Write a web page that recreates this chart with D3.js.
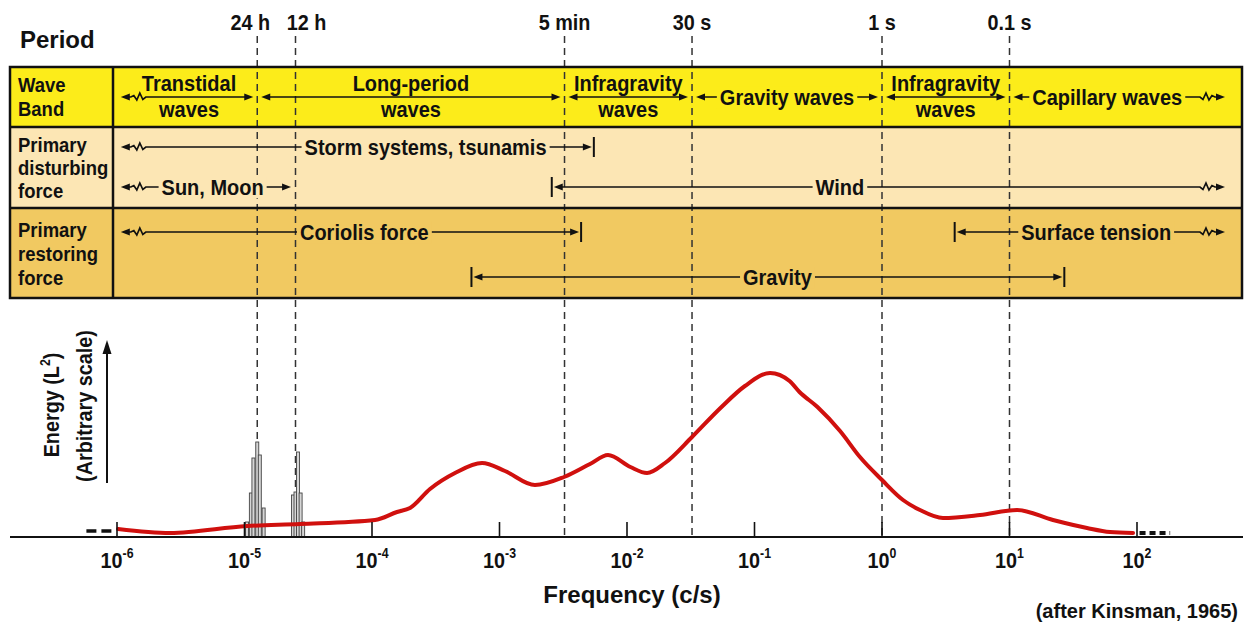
<!DOCTYPE html>
<html><head><meta charset="utf-8">
<script src="https://cdn.jsdelivr.net/npm/d3@7"></script>
<style>
body{margin:0;background:#fff}
svg{display:block}
text{font-family:"Liberation Sans",Arial,Helvetica,sans-serif;font-weight:bold;fill:#111}
</style>
</head><body>
<svg id="c" width="1245" height="631"></svg>
<script>
// ---------------- DATA ----------------
const tickExponents = [-6, -5, -4, -3, -2, -1, 0, 1, 2];
const periodLabels = ["24 h", "12 h", "5 min", "30 s", "1 s", "0.1 s"];
const periodLogFreq = [-4.9, -4.6, -2.49, -1.49, 0, 1];

const rowTitles = [["Wave", "Band"], ["Primary", "disturbing", "force"], ["Primary", "restoring", "force"]];

const waveBandNames = [["Transtidal", "waves"], ["Long-period", "waves"], ["Infragravity", "waves"], ["Gravity waves"], ["Infragravity", "waves"], ["Capillary waves"]];
const waveBandEdges = [-5.97, -4.9, -2.49, -1.49, 0, 1, 2.69]; // log10 frequency

const forceNames = ["Storm systems, tsunamis", "Sun, Moon", "Wind", "Coriolis force", "Surface tension", "Gravity"];
const forceRow = [1, 1, 1, 2, 2, 2];
const forceLane = [0, 1, 1, 0, 0, 1];
const forceFrom = [-5.97, -5.97, -2.59, -5.97, 0.57, -3.22];
const forceTo = [-2.26, -4.635, 2.69, -2.36, 2.69, 1.43];
const forceStartCap = ["wiggle", "wiggle", "bar", "wiggle", "bar", "bar"];
const forceEndCap = ["bar", "arrow", "wiggle", "bar", "wiggle", "bar"];
const forceLabelAt = [-3.58, -5.25, -0.33, -4.06, 1.68, -0.82];

const spectrumLogFreq = [-5.992, -5.584, -4.98, -4.565, -3.976, -3.804, -3.702, -3.545, -3.349, -3.137, -2.957, -2.722, -2.494, -2.29, -2.149, -1.973, -1.843, -1.702, -1.49, -1.267, -1.075, -0.878, -0.725, -0.647, -0.506, -0.329, -0.173, 0, 0.165, 0.298, 0.478, 0.769, 1.059, 1.341, 1.608, 1.788, 1.969];
const spectrumEnergy = [4, 2, 5.5, 6.5, 8.5, 12.5, 14.5, 24, 32, 37, 33, 26, 30, 36.5, 41, 35, 32, 37, 50, 64.5, 75.5, 82, 78, 72.5, 65, 53, 40, 28.5, 18.5, 13.5, 9.5, 11, 13.5, 8.5, 4.5, 2.5, 2];

const tideLogFreq = [-4.98, -4.95, -4.93, -4.90, -4.88, -4.85, -4.62, -4.60, -4.58, -4.56, -4.54];
const tideEnergy = [7.5, 22, 39.5, 47.5, 41, 14.5, 21, 22.5, 42.5, 22, 7.5];

const tailLeftLog = [-6.24, -6.04], tailLeftEnergy = 3;
const tailRightLog = [2.02, 2.26], tailRightEnergy = 2;

// ---------------- DRAW ----------------
const svg = d3.select("#c");
const x = d3.scaleLog().domain([1e-6, 1e2]).range([117, 1137]);
const xl = v => x(Math.pow(10, v));
const y = d3.scaleLinear().domain([0, 100]).range([537, 337]);
const SX = 0.88; // condensed look

function label(px, py, str, size, anchor, bg) {
  const g = svg.append("g").attr("transform", `translate(${px},${py}) scale(${SX},1)`);
  const t = g.append("text").attr("text-anchor", anchor || "start").attr("font-size", size).text(str);
  if (bg) {
    const b = t.node().getBBox();
    g.insert("rect", "text").attr("x", b.x - 3 / SX).attr("y", b.y + 2).attr("width", b.width + 6 / SX)
      .attr("height", b.height - 4).attr("fill", bg);
  }
  return t;
}

const tableLeft = 10, tableRight = 1242, labelCol = 113;
const rowTops = [67, 127, 208], rowBottoms = [127, 208, 298];
const rowColors = ["#fcec1a", "#fce6b4", "#f1c961"];

rowTops.forEach((t, i) => {
  svg.append("rect").attr("x", tableLeft).attr("y", t).attr("width", tableRight - tableLeft)
    .attr("height", rowBottoms[i] - t).attr("fill", rowColors[i]);
});

// Period dashed lines
const labelDx = {"24 h": -7, "12 h": 11};
periodLogFreq.forEach((v, i) => {
  svg.append("line").attr("x1", xl(v)).attr("x2", xl(v)).attr("y1", 36).attr("y2", 537)
    .attr("stroke", "#333").attr("stroke-width", 1.5).attr("stroke-dasharray", "7,5");
  label(xl(v) + (labelDx[periodLabels[i]] || 0), 30, periodLabels[i], 22.5, "middle");
});
svg.append("text").attr("x", 20).attr("y", 48).attr("font-size", 24).text("Period");

// Table borders
svg.append("rect").attr("x", tableLeft).attr("y", rowTops[0]).attr("width", tableRight - tableLeft)
  .attr("height", rowBottoms[2] - rowTops[0]).attr("fill", "none").attr("stroke", "#111").attr("stroke-width", 2.5);
[127, 208].forEach(yy => svg.append("line").attr("x1", tableLeft).attr("x2", tableRight).attr("y1", yy).attr("y2", yy)
  .attr("stroke", "#111").attr("stroke-width", 2.5));
svg.append("line").attr("x1", labelCol).attr("x2", labelCol).attr("y1", rowTops[0]).attr("y2", rowBottoms[2])
  .attr("stroke", "#111").attr("stroke-width", 2.5);

// Row titles
const titleBase = [[92, 116], [152, 175, 198], [237, 261, 285]];
rowTitles.forEach((lines, r) => lines.forEach((s, k) => label(18, titleBase[r][k], s, 21, "start")));

// Arrow helper
function drawArrow(x1, x2, yy, capL, capR) {
  const head = 9;
  const tipL = capL === "bar" ? x1 + 2 : x1;
  const tipR = capR === "bar" ? x2 - 2 : x2;
  const pts = [[tipL + head - 2, yy]];
  if (capL === "wiggle") {
    const b = tipL + head;
    pts.push([b + 1, yy], [b + 4, yy - 1.5], [b + 7, yy + 3], [b + 10, yy - 4], [b + 13, yy + 2.5], [b + 16, yy]);
  }
  if (capR === "wiggle") {
    const b = tipR - head;
    pts.push([b - 16, yy], [b - 13, yy + 2.5], [b - 10, yy - 4], [b - 7, yy + 3], [b - 4, yy - 1.5], [b - 1, yy]);
  }
  pts.push([tipR - head + 2, yy]);
  svg.append("path").attr("d", d3.line()(pts)).attr("fill", "none").attr("stroke", "#111").attr("stroke-width", 1.7);
  svg.append("path").attr("d", `M${tipL},${yy}L${tipL + head},${yy - 3.5}L${tipL + head},${yy + 3.5}Z`).attr("fill", "#111");
  svg.append("path").attr("d", `M${tipR},${yy}L${tipR - head},${yy - 3.5}L${tipR - head},${yy + 3.5}Z`).attr("fill", "#111");
  if (capL === "bar") svg.append("line").attr("x1", x1).attr("x2", x1).attr("y1", yy - 10).attr("y2", yy + 10).attr("stroke", "#111").attr("stroke-width", 2);
  if (capR === "bar") svg.append("line").attr("x1", x2).attr("x2", x2).attr("y1", yy - 10).attr("y2", yy + 10).attr("stroke", "#111").attr("stroke-width", 2);
}

// Wave band row
const bandY = 97;
waveBandNames.forEach((lines, i) => {
  const a = waveBandEdges[i], b = waveBandEdges[i + 1];
  const first = i === 0, last = i === waveBandNames.length - 1;
  const x1 = xl(a) + (first ? 0 : 4), x2 = xl(b) - (last ? 0 : 4);
  drawArrow(x1, x2, bandY, first ? "wiggle" : "arrow", last ? "wiggle" : "arrow");
  const cx = (xl(a) + xl(b)) / 2 + (last ? -10 : 0);
  if (lines.length === 2) {
    label(cx, 91, lines[0], 22.7, "middle");
    label(cx, 117, lines[1], 22.7, "middle");
  } else {
    label(cx, bandY + 8, lines[0], 22.7, "middle", rowColors[0]);
  }
});

// Force rows
const laneY = {1: [147, 187], 2: [232, 277]};
forceNames.forEach((name, i) => {
  const yy = laneY[forceRow[i]][forceLane[i]];
  drawArrow(xl(forceFrom[i]), xl(forceTo[i]), yy, forceStartCap[i], forceEndCap[i]);
  label(xl(forceLabelAt[i]), yy + 8, name, 22.7, "middle", rowColors[forceRow[i]]);
});

// Tidal spikes
tideLogFreq.forEach((v, i) => {
  svg.append("rect").attr("x", xl(v) - 1.5).attr("y", y(tideEnergy[i])).attr("width", 3)
    .attr("height", y(0) - y(tideEnergy[i])).attr("fill", "#d6d6d6").attr("stroke", "#444").attr("stroke-width", 0.9);
});

// Spectrum curve
const pts = spectrumLogFreq.map((v, i) => [xl(v), y(spectrumEnergy[i])]);
svg.append("path").attr("d", d3.line().curve(d3.curveMonotoneX)(pts)).attr("fill", "none")
  .attr("stroke", "#d0100e").attr("stroke-width", 4).attr("stroke-linejoin", "round").attr("stroke-linecap", "round");

// Tails
svg.append("line").attr("x1", xl(tailLeftLog[0])).attr("x2", xl(tailLeftLog[1])).attr("y1", y(tailLeftEnergy)).attr("y2", y(tailLeftEnergy))
  .attr("stroke", "#111").attr("stroke-width", 3.5).attr("stroke-dasharray", "10,5");
svg.append("line").attr("x1", xl(tailRightLog[0])).attr("x2", xl(tailRightLog[1])).attr("y1", y(tailRightEnergy)).attr("y2", y(tailRightEnergy))
  .attr("stroke", "#111").attr("stroke-width", 4).attr("stroke-dasharray", "6,4");

// X axis
svg.append("line").attr("x1", 10).attr("x2", 1243).attr("y1", 537).attr("y2", 537).attr("stroke", "#111").attr("stroke-width", 2.2);
tickExponents.forEach(e => {
  svg.append("line").attr("x1", xl(e)).attr("x2", xl(e)).attr("y1", 537).attr("y2", 522).attr("stroke", "#111").attr("stroke-width", 1.6);
  const t = svg.append("text").attr("transform", `translate(${xl(e)},568) scale(${SX},1)`).attr("text-anchor", "middle").attr("font-size", 22.5);
  t.append("tspan").text("10");
  t.append("tspan").attr("dy", -10).attr("font-size", 14).text(e < 0 ? "-" + (-e) : String(e));
});
svg.append("text").attr("x", 632).attr("y", 603).attr("text-anchor", "middle").attr("font-size", 24).text("Frequency (c/s)");
svg.append("text").attr("x", 1238).attr("y", 618).attr("text-anchor", "end").attr("font-size", 20).text("(after Kinsman, 1965)");

// Y axis label and arrow
const e1 = svg.append("text").attr("transform", `translate(59,405) rotate(-90) scale(${SX},1)`).attr("text-anchor", "middle").attr("font-size", 22.5);
e1.append("tspan").text("Energy (L");
e1.append("tspan").attr("dy", -9).attr("font-size", 14).text("2");
e1.append("tspan").attr("dy", 9).text(")");
svg.append("text").attr("transform", `translate(92,406) rotate(-90) scale(${SX},1)`).attr("text-anchor", "middle").attr("font-size", 22.5).text("(Arbitrary scale)");
svg.append("line").attr("x1", 107).attr("x2", 107).attr("y1", 483).attr("y2", 352).attr("stroke", "#111").attr("stroke-width", 2);
svg.append("path").attr("d", "M107,340L102.5,354L111.5,354Z").attr("fill", "#111");
</script>
</body></html>
